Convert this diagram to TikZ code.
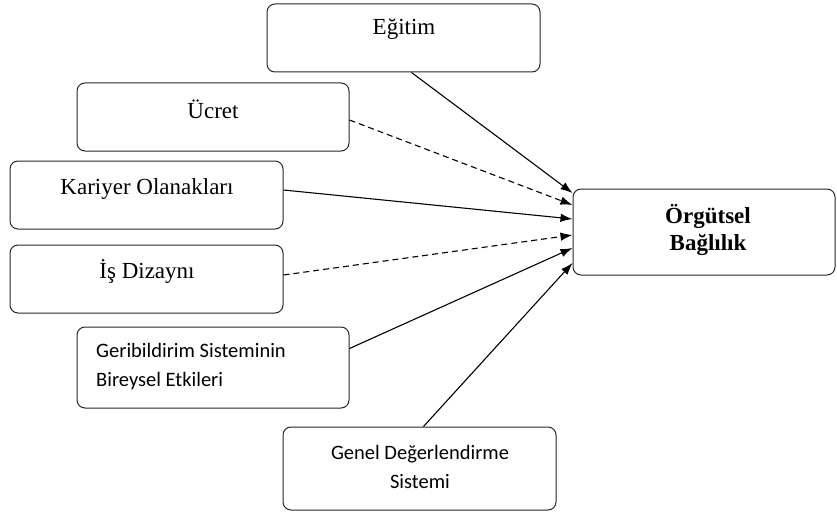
\documentclass[tikz,border=0pt]{standalone}
\usepackage{fontspec}
\setmainfont{Liberation Serif}
\newfontfamily\calibri{Carlito}
\usetikzlibrary{arrows.meta}
\tikzset{
  box/.style={draw=black!85, line width=1pt, rounded corners=8pt, inner sep=0pt},
  serifText/.style={font=\fontsize{23}{27}\selectfont, inner sep=0pt},
  sansText/.style={font=\calibri\fontsize{20.5}{29}\selectfont, inner sep=0pt},
  solidArrow/.style={line width=1.1pt, -{Latex[length=12pt,width=8.5pt]}},
  dashArrow/.style={solidArrow, dash pattern=on 6pt off 4pt},
}
\begin{document}
\begin{tikzpicture}[x=1pt,y=-1pt]
\useasboundingbox (0,0) rectangle (837,516);
\node[box, minimum width=273pt, minimum height=68pt] (egitim) at (403.5,38) {};
\node[box, minimum width=272pt, minimum height=68pt] (ucret) at (213,117) {};
\node[box, minimum width=273pt, minimum height=68pt] (kariyer) at (146.5,195) {};
\node[box, minimum width=273pt, minimum height=68pt] (is) at (146.5,279) {};
\node[box, minimum width=272pt, minimum height=81pt] (geri) at (213,367.5) {};
\node[box, minimum width=273pt, minimum height=83pt] (genel) at (419.5,468.5) {};
\node[box, minimum width=262pt, minimum height=86pt] (orgut) at (704,232) {};

\node[serifText] (egitimT) at (404,29) {Eğitim};
\node[serifText] (ucretT) at (213,109) {Ücret};
\node[serifText] (kariyerT) at (147,189) {Kariyer Olanakları};
\node[serifText] (isT) at (147,271) {İş Dizaynı};
\node[sansText, align=left, anchor=west] (geriT) at (96,367) {Geribildirim Sisteminin\\Bireysel Etkileri};
\node[sansText, align=center] (genelT) at (420,467) {Genel Değerlendirme\\Sistemi};
\node[serifText, font=\bfseries\fontsize{23}{27}\selectfont, align=center] (orgutT) at (708,230) {Örgütsel\\Bağlılık};

\draw[solidArrow] ([xshift=8pt]egitim.south) -- ([yshift=39pt]orgut.west);
\draw[dashArrow] ([yshift=-3pt]ucret.east) -- ([yshift=27pt]orgut.west);
\draw[solidArrow] ([yshift=5pt]kariyer.east) -- ([yshift=13pt]orgut.west);
\draw[dashArrow] ([yshift=4pt]is.east) -- ([yshift=-3pt]orgut.west);
\draw[solidArrow] ([yshift=19pt]geri.east) -- ([yshift=-16pt]orgut.west);
\draw[solidArrow] ([xshift=4pt]genel.north) -- ([yshift=-31pt]orgut.west);
\end{tikzpicture}
\end{document}
